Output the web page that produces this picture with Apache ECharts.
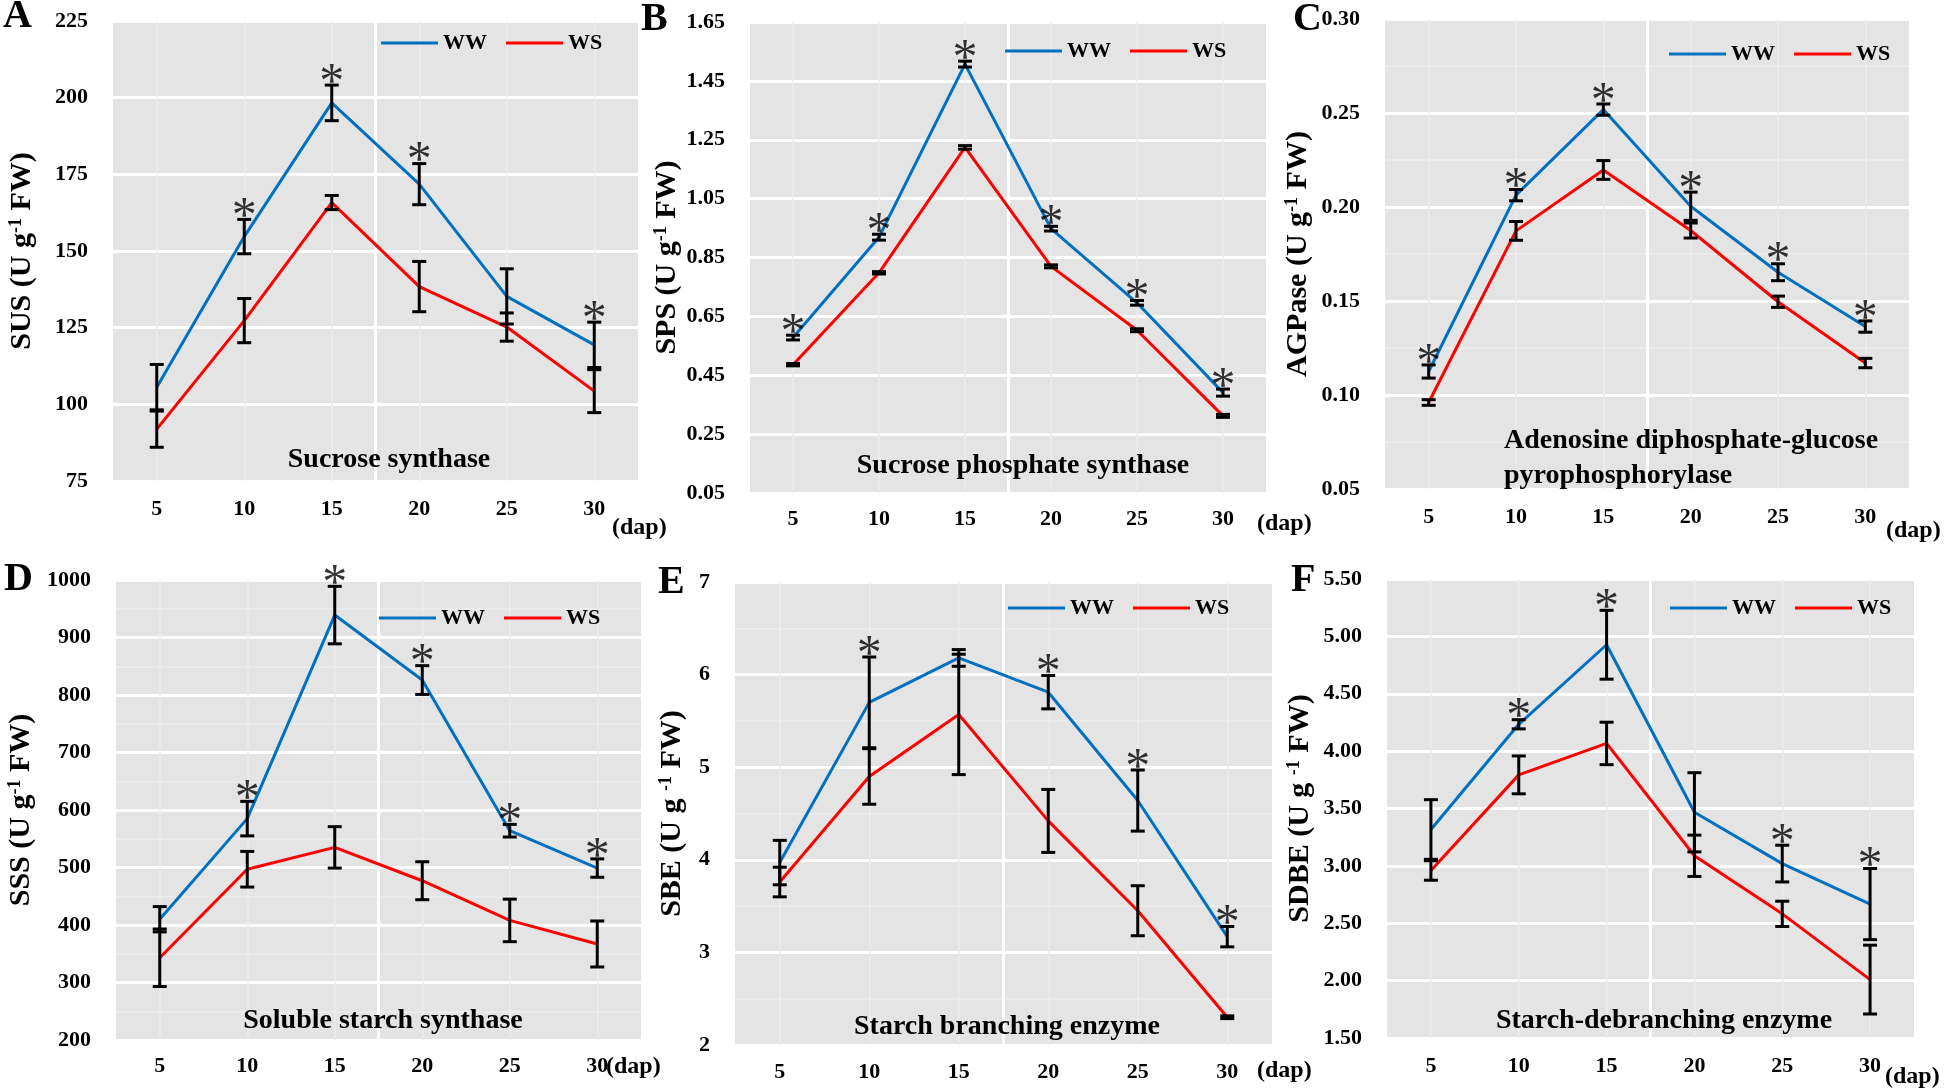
<!DOCTYPE html>
<html>
<head>
<meta charset="utf-8">
<script src="https://cdn.jsdelivr.net/npm/echarts@6/dist/echarts.min.js"></script>
<style>
  html, body { margin: 0; padding: 0; background: #fff; }
  #chart { width: 1944px; height: 1092px; }
</style>
</head>
<body>
<div id="chart"></div>
<script>
// days after pollination
const days = ["5", "10", "15", "20", "25", "30"];

// A  sucrose synthase
const wwA = [105.6, 154.7, 198.3, 171.8, 135.2, 119.4];
const wwAErr = [7.4, 5.6, 5.8, 6.7, 9.0, 7.4];
const wsA = [91.9, 127.3, 165.8, 138.4, 125.2, 104.3];
const wsAErr = [5.9, 7.2, 2.3, 8.2, 4.6, 7.0];
const starA = [0, 1, 1, 1, 0, 1];

// B  sucrose phosphate synthase
const wwB = [0.578, 0.919, 1.507, 0.948, 0.696, 0.391];
const wwBErr = [0.008, 0.01, 0.01, 0.008, 0.008, 0.012];
const wsB = [0.486, 0.798, 1.224, 0.82, 0.603, 0.312];
const wsBErr = [0.004, 0.004, 0.006, 0.005, 0.005, 0.005];
const starB = [1, 1, 1, 1, 1, 1];

// C  AGPase
const wwC = [0.1125, 0.2063, 0.2518, 0.2004, 0.1653, 0.1364];
const wwCErr = [0.0035, 0.003, 0.003, 0.0075, 0.0045, 0.003];
const wsC = [0.096, 0.1873, 0.2197, 0.1875, 0.1496, 0.117];
const wsCErr = [0.0015, 0.005, 0.005, 0.004, 0.003, 0.0025];
const starC = [1, 1, 1, 1, 1, 1];

// D  soluble starch synthase
const wwD = [410, 585, 939, 826, 564, 499];
const wwDErr = [22, 30, 50, 25, 11, 16];
const wsD = [343, 497, 535, 477, 408, 367];
const wsDErr = [50, 31, 36, 33, 37, 40];
const starD = [0, 1, 1, 1, 1, 1];

// E  starch branching enzyme
const wwE = [3.97, 5.7, 6.18, 5.81, 4.64, 3.17];
const wwEErr = [0.24, 0.49, 0.09, 0.18, 0.33, 0.11];
const wsE = [3.76, 4.9, 5.57, 4.42, 3.45, 2.3];
const wsEErr = [0.16, 0.3, 0.65, 0.34, 0.27, 0.015];
const starE = [0, 1, 0, 1, 1, 1];

// F  starch-debranching enzyme
const wwF = [3.317, 4.234, 4.927, 3.467, 3.02, 2.667];
const wwFErr = [0.26, 0.04, 0.3, 0.345, 0.16, 0.31];
const wsF = [2.96, 3.793, 4.067, 3.088, 2.582, 2.009];
const wsFErr = [0.085, 0.165, 0.185, 0.18, 0.11, 0.3];
const starF = [0, 1, 1, 0, 1, 1];

const serif = '"Times New Roman", "Liberation Serif", serif';
const blue = "#0070c0";
const red = "#ff0000";

const panels = [
  { letter: "A", ww: wwA, wwErr: wwAErr, ws: wsA, wsErr: wsAErr, star: starA,
    grid: { left: 113, top: 21, width: 525, height: 460 },
    y: { min: 75, max: 225, interval: 25, dec: 0, minor: false },
    yName: "SUS (U g{s|-1} FW)", nameGap: 76, labelMargin: 17,
    legend: [381, 43], letterPos: [3, 17], dap: [612, 528],
    title: ["Sucrose synthase"], titlePos: [389, 460], titleAlign: "center" },
  { letter: "B", ww: wwB, wwErr: wwBErr, ws: wsB, wsErr: wsBErr, star: starB,
    grid: { left: 750, top: 22, width: 516, height: 471 },
    y: { min: 0.05, max: 1.65, interval: 0.2, dec: 2, minor: false },
    yName: "SPS (U g{s|-1} FW)", nameGap: 64, labelMargin: 15,
    legend: [1005, 51], letterPos: [641, 20], dap: [1257, 524],
    title: ["Sucrose phosphate synthase"], titlePos: [1023, 466], titleAlign: "center" },
  { letter: "C", ww: wwC, wwErr: wwCErr, ws: wsC, wsErr: wsCErr, star: starC,
    grid: { left: 1385, top: 19, width: 524, height: 470 },
    y: { min: 0.05, max: 0.3, interval: 0.05, dec: 2, minor: true },
    yName: "AGPase (U g{s|-1} FW)", nameGap: 72, labelMargin: 17,
    legend: [1669, 54], letterPos: [1293, 20], dap: [1886, 531],
    title: ["Adenosine diphosphate-glucose", "pyrophosphorylase"], titlePos: [1504, 441], titleAlign: "left" },
  { letter: "D", ww: wwD, wwErr: wwDErr, ws: wsD, wsErr: wsDErr, star: starD,
    grid: { left: 116, top: 580, width: 525, height: 460 },
    y: { min: 200, max: 1000, interval: 100, dec: 0, minor: true },
    yName: "SSS (U g{s|-1} FW)", nameGap: 80, labelMargin: 15,
    legend: [379, 618], letterPos: [4, 580], dap: [606, 1067],
    title: ["Soluble starch synthase"], titlePos: [383, 1021], titleAlign: "center" },
  { letter: "E", ww: wwE, wwErr: wwEErr, ws: wsE, wsErr: wsEErr, star: starE,
    grid: { left: 735, top: 582, width: 537, height: 463 },
    y: { min: 2, max: 7, interval: 1, dec: 0, minor: true },
    yName: "SBE (U g {s|-1} FW)", nameGap: 48, labelMargin: 16,
    legend: [1008, 608], letterPos: [658, 583], dap: [1257, 1071],
    title: ["Starch branching enzyme"], titlePos: [1007, 1027], titleAlign: "center" },
  { letter: "F", ww: wwF, wwErr: wwFErr, ws: wsF, wsErr: wsFErr, star: starF,
    grid: { left: 1387, top: 579, width: 527, height: 459 },
    y: { min: 1.5, max: 5.5, interval: 0.5, dec: 2, minor: false },
    yName: "SDBE (U g {s|-1} FW)", nameGap: 72, labelMargin: 17,
    legend: [1670, 608], letterPos: [1291, 581], dap: [1885, 1077],
    title: ["Starch-debranching enzyme"], titlePos: [1664, 1021], titleAlign: "center" }
];

function errRender(params, api) {
  const x = api.value(0);
  const lo = api.coord([x, api.value(1)]);
  const hi = api.coord([x, api.value(2)]);
  const w = 7;
  const style = { stroke: "#000", lineWidth: 3 };
  return {
    type: "group",
    children: [
      { type: "line", shape: { x1: lo[0], y1: lo[1], x2: hi[0], y2: hi[1] }, style },
      { type: "line", shape: { x1: lo[0] - w, y1: lo[1], x2: lo[0] + w, y2: lo[1] }, style },
      { type: "line", shape: { x1: hi[0] - w, y1: hi[1], x2: hi[0] + w, y2: hi[1] }, style }
    ]
  };
}

const grids = [], xAxes = [], yAxes = [], series = [], legends = [], graphics = [];

panels.forEach((p, i) => {
  grids.push(Object.assign({ show: true, backgroundColor: "#e4e4e4", borderWidth: 0 }, p.grid));

  xAxes.push({
    type: "category", gridIndex: i, data: days, boundaryGap: true,
    axisLine: { show: false }, axisTick: { show: false }, splitLine: { show: false },
    axisLabel: { margin: p.labelMargin, color: "#000", fontFamily: serif, fontWeight: "bold", fontSize: 22 }
  });
  // white divider through the middle of the plot area
  xAxes.push({
    type: "value", gridIndex: i, min: 0, max: 2, interval: 1,
    axisLine: { show: false }, axisTick: { show: false }, axisLabel: { show: false },
    splitLine: { show: true, showMinLine: false, showMaxLine: false, lineStyle: { color: "#ffffff", width: 3 } }
  });

  yAxes.push({
    type: "value", gridIndex: i, min: p.y.min, max: p.y.max, interval: p.y.interval,
    axisLine: { show: false }, axisTick: { show: false },
    axisLabel: {
      margin: 25, color: "#000", fontFamily: serif, fontWeight: "bold", fontSize: 22,
      formatter: (v) => v.toFixed(p.y.dec)
    },
    splitLine: { show: true, lineStyle: { color: "#ffffff", width: 3 } },
    minorTick: { show: false, splitNumber: 2 },
    minorSplitLine: { show: p.y.minor, lineStyle: { color: "#ededed", width: 1.5 } },
    name: p.yName, nameLocation: "middle", nameRotate: 90, nameGap: p.nameGap,
    nameTextStyle: {
      color: "#000", fontFamily: serif, fontWeight: "bold", fontSize: 30,
      rich: { s: { fontFamily: serif, fontWeight: "bold", fontSize: 18, color: "#000", verticalAlign: "top", lineHeight: 30 } }
    }
  });

  const xi = i * 2;
  // faint vertical guides at each sampling day
  series.push({
    type: "line", name: "guide" + i, xAxisIndex: xi, yAxisIndex: i, z: 1,
    data: p.ws, symbol: "none", lineStyle: { width: 0, opacity: 0 }, silent: true,
    markLine: {
      z: 1, silent: true, symbol: ["none", "none"], label: { show: false },
      lineStyle: { color: "#ececec", width: 1.5, type: "solid" },
      data: days.map((d) => ({ xAxis: d }))
    }
  });
  series.push({
    type: "line", name: "WW", xAxisIndex: xi, yAxisIndex: i, data: p.ww,
    symbol: "none", lineStyle: { color: blue, width: 3 }, itemStyle: { color: blue }, z: 3
  });
  series.push({
    type: "line", name: "WS", xAxisIndex: xi, yAxisIndex: i, data: p.ws,
    symbol: "none", lineStyle: { color: red, width: 3 }, itemStyle: { color: red }, z: 3
  });
  const bars = [];
  p.ww.forEach((v, k) => bars.push([k, v - p.wwErr[k], v + p.wwErr[k]]));
  p.ws.forEach((v, k) => bars.push([k, v - p.wsErr[k], v + p.wsErr[k]]));
  series.push({
    type: "custom", name: "err" + i, xAxisIndex: xi, yAxisIndex: i, z: 4,
    renderItem: errRender, encode: { x: 0, y: [1, 2] }, data: bars, silent: true
  });
  const stars = [];
  p.star.forEach((s, k) => { if (s) stars.push([k, p.ww[k] + p.wwErr[k]]); });
  series.push({
    type: "scatter", name: "sig" + i, xAxisIndex: xi, yAxisIndex: i, z: 5,
    data: stars, symbolSize: 1, itemStyle: { color: "rgba(0,0,0,0)" }, silent: true,
    label: {
      show: true, position: "top", distance: 0, offset: [0, 24], formatter: "*",
      fontFamily: serif, fontSize: 50, color: "#000"
    }
  });

  legends.push({
    left: p.legend[0], top: p.legend[1] - 11, padding: 0,
    data: [{ name: "WW", icon: "rect" }, { name: "WS", icon: "rect" }],
    itemWidth: 57, itemHeight: 3, itemGap: 19, selectedMode: false,
    textStyle: { color: "#000", fontFamily: serif, fontWeight: "bold", fontSize: 22, lineHeight: 22 }
  });

  graphics.push({
    type: "text", x: p.letterPos[0], y: p.letterPos[1], z: 10,
    style: { text: p.letter, fill: "#000", font: "bold 40px " + serif, align: "left", verticalAlign: "middle" }
  });
  graphics.push({
    type: "text", x: p.dap[0], y: p.dap[1], z: 10,
    style: { text: "(dap)", fill: "#000", font: "bold 24px " + serif, align: "left", verticalAlign: "middle" }
  });
  p.title.forEach((t, k) => {
    graphics.push({
      type: "text", x: p.titlePos[0], y: p.titlePos[1] + k * 35, z: 10,
      style: { text: t, fill: "#000", font: "bold 28px " + serif, align: p.titleAlign, verticalAlign: "middle" }
    });
  });
});

const chart = echarts.init(document.getElementById("chart"), null, { renderer: "canvas" });
chart.setOption({
  backgroundColor: "#ffffff",
  animation: false,
  grid: grids,
  xAxis: xAxes,
  yAxis: yAxes,
  legend: legends,
  series: series,
  graphic: graphics
});
</script>
</body>
</html>
